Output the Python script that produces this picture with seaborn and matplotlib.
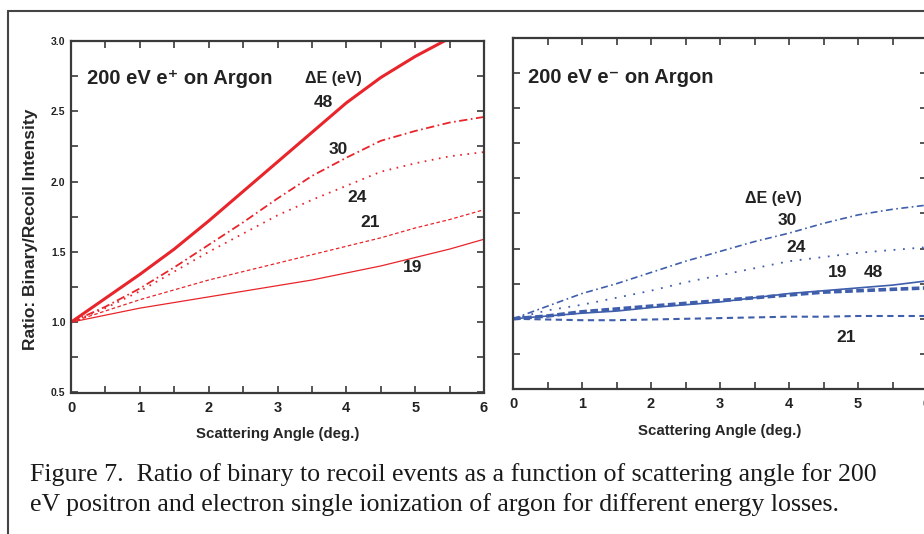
import matplotlib
matplotlib.use('Agg')
import matplotlib.pyplot as plt
import seaborn as sns
import pandas as pd
from matplotlib.lines import Line2D
from matplotlib.ticker import MultipleLocator, FormatStrFormatter

# scattering angle (deg.)
angle = [0, 0.5, 1, 1.5, 2, 2.5, 3, 3.5, 4, 4.5, 5, 5.5, 6]

# 200 eV e+ on argon, ratio binary/recoil for each energy loss (eV)
pos_48 = [1.0, 1.17, 1.34, 1.52, 1.72, 1.93, 2.14, 2.35, 2.56, 2.74, 2.89, 3.02]
pos_30 = [1.0, 1.11, 1.24, 1.39, 1.55, 1.71, 1.88, 2.04, 2.17, 2.29, 2.36, 2.42, 2.46]
pos_24 = [1.0, 1.10, 1.22, 1.36, 1.50, 1.63, 1.76, 1.87, 1.97, 2.07, 2.13, 2.18, 2.21]
pos_21 = [1.0, 1.08, 1.16, 1.23, 1.30, 1.36, 1.42, 1.48, 1.54, 1.60, 1.67, 1.73, 1.80]
pos_19 = [1.0, 1.05, 1.10, 1.14, 1.18, 1.22, 1.26, 1.30, 1.35, 1.40, 1.46, 1.52, 1.59]

# 200 eV e- on argon
ele_30 = [1.0, 1.09, 1.18, 1.25, 1.33, 1.41, 1.48, 1.55, 1.61, 1.68, 1.74, 1.78, 1.81]
ele_24 = [1.0, 1.06, 1.10, 1.15, 1.20, 1.26, 1.31, 1.36, 1.41, 1.44, 1.47, 1.49, 1.51]
ele_48 = [1.0, 1.02, 1.05, 1.07, 1.09, 1.11, 1.13, 1.15, 1.17, 1.19, 1.20, 1.21, 1.22]
ele_19 = [1.0, 1.02, 1.04, 1.055, 1.08, 1.10, 1.12, 1.15, 1.18, 1.20, 1.22, 1.24, 1.27]
ele_21 = [1.0, 0.995, 0.99, 0.99, 0.995, 1.0, 1.005, 1.01, 1.015, 1.015, 1.02, 1.02, 1.02]

RED = '#e8252b'
BLUE = '#3f5eab'
INK = '#222222'
SPINE = '#3a3a3a'

sns.set_style('ticks')
plt.rcParams['font.family'] = ['Liberation Sans', 'DejaVu Sans']
plt.rcParams['font.weight'] = 'bold'
plt.rcParams['lines.scale_dashes'] = False
plt.rcParams['text.color'] = INK

fig = plt.figure(figsize=(9.24, 5.34), dpi=100)
ax1 = fig.add_axes([71/924, 1-392.5/534, 413/924, 351.5/534])
ax2 = fig.add_axes([513/924, 1-389/534, 414/924, 351/534])

# (values, linewidth, linestyle)
pos_lines = [
    (pos_48, 2.2, '-'),
    (pos_30, 1.3, (0, (6, 2.5, 1.2, 2.5))),
    (pos_24, 1.3, (0, (1.2, 4.0))),
    (pos_21, 0.9, (0, (2.6, 1.8))),
    (pos_19, 0.9, '-'),
]
ele_lines = [
    (ele_30, 1.2, (0, (5, 2.5, 1.2, 2.5))),
    (ele_24, 1.3, (0, (1.3, 5.5))),
    (ele_19, 1.2, '-'),
    (ele_48, 2.6, (0, (5.5, 2.5))),
    (ele_21, 1.5, (0, (4.5, 3.2))),
]

for vals, lw, ls in pos_lines:
    df = pd.DataFrame({'angle': angle[:len(vals)], 'ratio': vals})
    sns.lineplot(data=df, x='angle', y='ratio', ax=ax1, color=RED, lw=lw, linestyle=ls)
for vals, lw, ls in ele_lines:
    df = pd.DataFrame({'angle': angle[:len(vals)], 'ratio': vals})
    sns.lineplot(data=df, x='angle', y='ratio', ax=ax2, color=BLUE, lw=lw, linestyle=ls)

for ax in (ax1, ax2):
    ax.set_xlim(0, 6)
    ax.set_ylim(0.5, 3.0)
    ax.xaxis.set_major_locator(MultipleLocator(1))
    ax.xaxis.set_minor_locator(MultipleLocator(0.5))
    ax.yaxis.set_major_locator(MultipleLocator(0.5))
    ax.yaxis.set_minor_locator(MultipleLocator(0.25))
    ax.tick_params(which='both', direction='in', top=True, right=True,
                   length=5, width=1.2, color=SPINE, labelcolor=INK)
    ax.tick_params(axis='x', labelsize=10.5, pad=6)
    for s in ax.spines.values():
        s.set_color(SPINE)
        s.set_linewidth(1.6)
    ax.set_xlabel('Scattering Angle (deg.)', fontsize=10.8, fontweight='bold', labelpad=9)
    ax.set_ylabel('')

ax1.tick_params(axis='y', labelsize=7.5, pad=4)
ax1.yaxis.set_major_formatter(FormatStrFormatter('%.1f'))
ax2.tick_params(axis='y', labelleft=False)
ax1.set_ylabel('Ratio: Binary/Recoil Intensity', fontsize=12.5, fontweight='bold')
ax1.yaxis.set_label_coords(-0.08, 0.465)

# panel titles and curve labels
ax1.text(0.23, 2.73, '200 eV e\u207a on Argon', fontsize=14.5, fontweight='bold', va='center', ha='left')
ax2.text(0.22, 2.72, '200 eV e\u207b on Argon', fontsize=14.5, fontweight='bold', va='center', ha='left')

lab = dict(fontsize=12.5, fontweight='bold', ha='center', va='center')
de = dict(lab, fontsize=11.5)
ax1.text(3.81, 2.73, '\u0394E (eV)', **de)
ax1.text(3.67, 2.56, '48', **lab)
ax1.text(3.89, 2.23, '30', **lab)
ax1.text(4.15, 1.89, '24', **lab)
ax1.text(4.34, 1.71, '21', **lab)
ax1.text(4.96, 1.39, '19', **lab)

ax2.text(3.77, 1.86, '\u0394E (eV)', **de)
ax2.text(3.97, 1.70, '30', **lab)
ax2.text(4.10, 1.51, '24', **lab)
ax2.text(4.70, 1.33, '19', **lab)
ax2.text(5.22, 1.33, '48', **lab)
ax2.text(4.83, 0.865, '21', **lab)

# page frame around the figure
fig.add_artist(Line2D([8/924, 1], [1-11/534, 1-11/534], transform=fig.transFigure, color='#444444', lw=1.5))
fig.add_artist(Line2D([8/924, 8/924], [0, 1-11/534], transform=fig.transFigure, color='#444444', lw=1.5))

cap = dict(fontsize=18.6, fontweight='normal', family=['Liberation Serif', 'DejaVu Serif'],
           color='#1a1a1a', va='baseline', ha='left')
fig.text(30/924, 1-481/534, 'Figure 7.  Ratio of binary to recoil events as a function of scattering angle for 200', **cap)
fig.text(30/924, 1-511/534, 'eV positron and electron single ionization of argon for different energy losses.', **cap)

fig.savefig('out.png', dpi=100)
